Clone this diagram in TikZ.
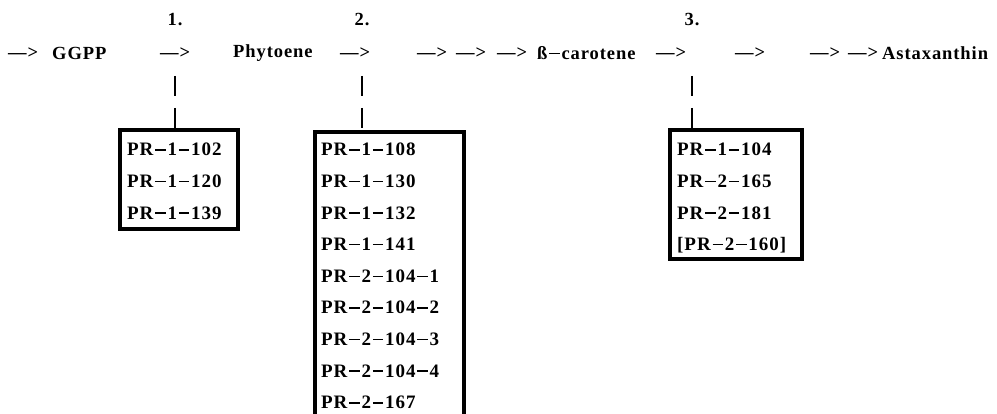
\documentclass[tikz,border=0pt]{standalone}
\usepackage{fontspec}
\newfontfamily\plate{Liberation Serif}[LetterSpace=5]
% typewriter-style hyphen: a long thin bar at digit mid-height
\newcommand\dsh{\hspace{1.8pt}\rule[5.3pt]{10.5pt}{1.5pt}\hspace{1.8pt}}
\tikzset{
  lbl/.style={font=\plate\bfseries\fontsize{18.5}{20}\selectfont, inner sep=0pt, anchor=west},
  num/.style={font=\plate\bfseries\fontsize{18.5}{20}\selectfont, inner sep=0pt},
  row/.style={font=\plate\bfseries\fontsize{19}{20}\selectfont, inner sep=0pt, anchor=base west},
  listbox/.style={draw, line width=4pt, anchor=north west, inner sep=0pt},
  tie/.style={line width=2.5pt, dash pattern=on 20pt off 12pt}
}
\begin{document}
\begin{tikzpicture}[x=1pt, y=-1pt]
  \useasboundingbox (0,0) rectangle (997,414);

  % pathway row
  \node[lbl] (p0)  at (8,53)   {—>};
  \node[lbl] (gg)  at (52,53)  {GGPP};
  \node[lbl] (p1)  at (160,53) {—>};
  \node[lbl] (ph)  at (233,53) {Phytoene};
  \node[lbl] (p2)  at (340,53) {—>};
  \node[lbl] (p3)  at (417,53) {—>};
  \node[lbl] (p4)  at (456,53) {—>};
  \node[lbl] (p5)  at (497,53) {—>};
  \node[lbl] (bc)  at (537,53) {ß\dsh carotene};
  \node[lbl] (p6)  at (656,53) {—>};
  \node[lbl] (p7)  at (735,53) {—>};
  \node[lbl] (p8)  at (810,53) {—>};
  \node[lbl] (p9)  at (848,53) {—>};
  \node[lbl] (ax)  at (882,53) {Astaxanthin};

  % step numbers
  \node[num] (n1) at (175,20) {1.};
  \node[num] (n2) at (362,20) {2.};
  \node[num] (n3) at (692,20) {3.};

  % clone lists
  \node[listbox, minimum width=118pt, minimum height=99pt]  (b1) at (118,128) {};
  \node[listbox, minimum width=149pt, minimum height=320pt] (b2) at (313,130) {};
  \node[listbox, minimum width=132pt, minimum height=129pt] (b3) at (668,128) {};

  \foreach \t [count=\i from 0] in {PR\dsh 1\dsh 102, PR\dsh 1\dsh 120, PR\dsh 1\dsh 139}
    \node[row] (r1-\i) at (127,156+31.6*\i) {\t};
  \foreach \t [count=\i from 0] in {PR\dsh 1\dsh 108, PR\dsh 1\dsh 130, PR\dsh 1\dsh 132,
      PR\dsh 1\dsh 141, PR\dsh 2\dsh 104\dsh 1, PR\dsh 2\dsh 104\dsh 2,
      PR\dsh 2\dsh 104\dsh 3, PR\dsh 2\dsh 104\dsh 4, PR\dsh 2\dsh 167}
    \node[row] (r2-\i) at (321,156+31.6*\i) {\t};
  \foreach \t [count=\i from 0] in {PR\dsh 1\dsh 104, PR\dsh 2\dsh 165, PR\dsh 2\dsh 181, [PR\dsh 2\dsh 160]}
    \node[row] (r3-\i) at (677,156+31.6*\i) {\t};

  % links from each step down to its list
  \coordinate (t1) at (175,76);
  \coordinate (t2) at (362,76);
  \coordinate (t3) at (692,76);
  \draw[tie] (t1) -- (t1 |- b1.north);
  \draw[tie] (t2) -- (t2 |- b2.north);
  \draw[tie] (t3) -- (t3 |- b3.north);
\end{tikzpicture}
\end{document}
